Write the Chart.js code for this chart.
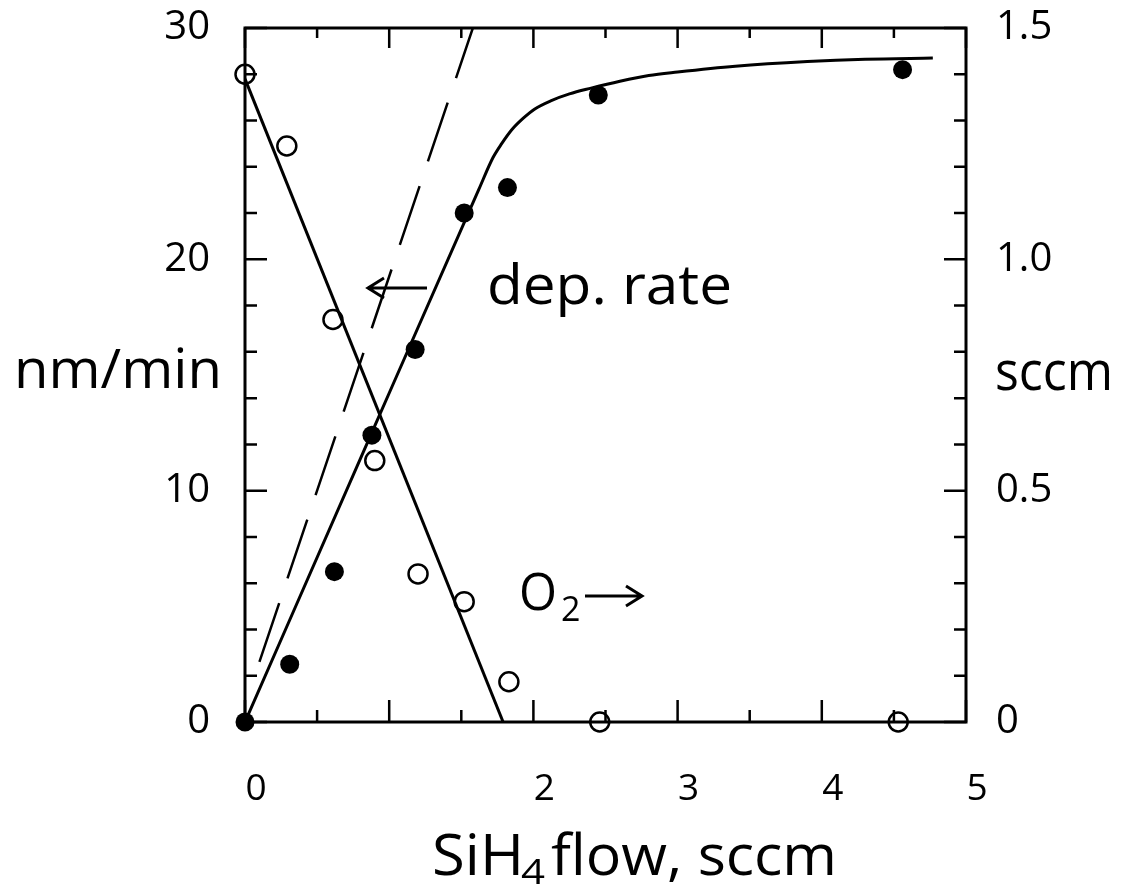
<!DOCTYPE html>
<html>
<head>
<meta charset="utf-8">
<script src="https://cdn.jsdelivr.net/npm/chart.js@4.4.1/dist/chart.umd.min.js"></script>
<style>
  html, body { margin: 0; padding: 0; background: #fff; }
  #wrap { width: 1138px; height: 885px; }
</style>
</head>
<body>
<div id="wrap"><canvas id="fig"></canvas></div>
<script>
// measured points, SiH4 flow in sccm
var rateFlow = [0, 0.31, 0.62, 0.88, 1.18, 1.52, 1.82, 2.45, 4.56];
var rateVal  = [0, 2.5, 6.5, 12.4, 16.1, 22.0, 23.1, 27.1, 28.2];      // nm/min (filled)
var o2Flow   = [0, 0.29, 0.61, 0.90, 1.20, 1.52, 1.83, 2.46, 4.53];
var o2Val    = [1.40, 1.245, 0.87, 0.565, 0.32, 0.26, 0.087, 0, 0];    // sccm (open)

// drawn curves
var fitFlow = [0, 0.9, 1.62, 1.72, 1.78, 1.85, 1.93, 2.01, 2.12, 2.25, 2.4, 2.6, 2.8, 3.0, 3.4, 3.9, 4.3, 4.77];
var fitRate = [0, 12.8, 23.0, 24.4, 25.0, 25.6, 26.1, 26.5, 26.85, 27.15, 27.4, 27.7, 27.95, 28.1, 28.35, 28.55, 28.65, 28.7];
var o2LineFlow = [0, 1.79];
var o2LineVal  = [1.39, 0];
var dashFlow = [0.10, 1.58];
var dashRate = [2.6, 30];

// tick labels
var xTicks = [0, 1, 2, 3, 4, 5];
var xLabels = ['0', '', '2', '3', '4', '5'];
var leftTicks = [0, 10, 20, 30];
var leftLabels = ['0', '10', '20', '30'];
var rightTicks = [0, 0.5, 1.0, 1.5];
var rightLabels = ['0', '0.5', '1.0', '1.5'];

function pts(xs, ys) {
    return xs.map(function (v, i) { return { x: v, y: ys[i] }; });
}

function fitText(ctx, str, x, y, width) {
    var w = ctx.measureText(str).width;
    ctx.save();
    ctx.translate(x, y);
    ctx.scale(width / w, 1);
    ctx.fillText(str, 0, 0);
    ctx.restore();
}

function arrow(ctx, x1, x2, y, dir) {
    var tip = dir < 0 ? x1 : x2;
    ctx.beginPath();
    ctx.moveTo(x1, y); ctx.lineTo(x2, y);
    ctx.moveTo(tip - dir * 16, y - 10); ctx.lineTo(tip, y); ctx.lineTo(tip - dir * 16, y + 10);
    ctx.stroke();
}

var frame = {
    id: 'frame',
    beforeDatasetsDraw: function (chart) {
        var ctx = chart.ctx, a = chart.chartArea;
        var x = chart.scales.x, y = chart.scales.y;
        ctx.save();
        ctx.strokeStyle = '#000';
        ctx.lineWidth = 3;
        ctx.strokeRect(a.left, a.top, a.right - a.left, a.bottom - a.top);
        ctx.lineWidth = 2.5;
        ctx.beginPath();
        for (var v = 0; v <= 30; v += 2) {
            var py = y.getPixelForValue(v);
            var len = v % 10 === 0 ? 22 : 12;
            ctx.moveTo(a.left, py); ctx.lineTo(a.left + len, py);
            ctx.moveTo(a.right, py); ctx.lineTo(a.right - len, py);
        }
        for (var u = 0; u <= 5; u += 0.5) {
            var px = x.getPixelForValue(u);
            var big = u % 1 === 0;
            ctx.moveTo(px, a.bottom); ctx.lineTo(px, a.bottom - (big ? 22 : 12));
            ctx.moveTo(px, a.top); ctx.lineTo(px, a.top + (big ? 20 : 10));
        }
        ctx.stroke();
        ctx.restore();
    },
    afterDraw: function (chart) {
        var ctx = chart.ctx;
        ctx.save();
        ctx.fillStyle = '#000';
        ctx.strokeStyle = '#000';
        ctx.lineWidth = 3;
        ctx.textAlign = 'left';
        ctx.textBaseline = 'alphabetic';

        ctx.font = '500 54px "Open Sans"';
        fitText(ctx, 'nm/min', 14, 388, 208);
        fitText(ctx, 'sccm', 995, 390, 118);
        fitText(ctx, 'dep. rate', 487, 304, 245);
        arrow(ctx, 368, 427, 288, -1);

        ctx.font = '500 52px "Open Sans"';
        fitText(ctx, 'O', 519, 610, 38);
        ctx.font = '500 34px "Open Sans"';
        ctx.fillText('2', 561, 621);
        arrow(ctx, 585, 642, 596, 1);

        ctx.font = '500 56px "Open Sans"';
        fitText(ctx, 'SiH', 432, 875, 92);
        ctx.font = '500 34px "Open Sans"';
        fitText(ctx, '4', 521, 884, 24);
        ctx.font = '500 56px "Open Sans"';
        fitText(ctx, 'flow, sccm', 551, 875, 286);
        ctx.restore();
    }
};

// keep the tick label overhang from pushing the plot box down
function sideFit(w) {
    return function (s) {
        s.width = w;
        s.paddingTop = 0;
        s.paddingBottom = 0;
    };
}

new Chart(document.getElementById('fig').getContext('2d'), {
    type: 'scatter',
    data: {
        datasets: [{
            type: 'line',
            data: pts(fitFlow, fitRate),
            yAxisID: 'y',
            borderColor: '#000',
            borderWidth: 3,
            pointRadius: 0,
            cubicInterpolationMode: 'monotone',
            fill: false
        }, {
            type: 'line',
            data: pts(o2LineFlow, o2LineVal),
            yAxisID: 'y2',
            borderColor: '#000',
            borderWidth: 3,
            pointRadius: 0,
            fill: false
        }, {
            type: 'line',
            data: pts(dashFlow, dashRate),
            yAxisID: 'y',
            borderColor: '#000',
            borderWidth: 2.5,
            borderDash: [62, 26],
            pointRadius: 0,
            fill: false
        }, {
            data: pts(rateFlow, rateVal),
            yAxisID: 'y',
            pointRadius: 9.5,
            pointBackgroundColor: '#000',
            pointBorderColor: '#000',
            pointBorderWidth: 0,
            clip: false
        }, {
            data: pts(o2Flow, o2Val),
            yAxisID: 'y2',
            pointRadius: 9.5,
            pointBackgroundColor: 'rgba(0,0,0,0)',
            pointBorderColor: '#000',
            pointBorderWidth: 2.5,
            clip: false
        }]
    },
    options: {
        responsive: true,
        maintainAspectRatio: false,
        animation: false,
        layout: { padding: { top: 28, left: 0, right: 0, bottom: 0 } },
        plugins: {
            legend: { display: false },
            tooltip: { enabled: false }
        },
        scales: {
            x: {
                type: 'linear',
                position: 'bottom',
                min: 0,
                max: 5,
                afterBuildTicks: function (s) { s.ticks = xTicks.map(function (v) { return { value: v }; }); },
                afterFit: function (s) { s.height = 163; },
                grid: { display: false, drawTicks: false },
                border: { display: false },
                ticks: {
                    padding: 45,
                    labelOffset: 11,
                    color: '#000',
                    font: { family: 'Open Sans', size: 37, weight: '500' },
                    maxRotation: 0,
                    callback: function (v) { return xLabels[xTicks.indexOf(v)]; }
                }
            },
            y: {
                position: 'left',
                min: 0,
                max: 30,
                afterBuildTicks: function (s) { s.ticks = leftTicks.map(function (v) { return { value: v }; }); },
                afterFit: sideFit(245),
                grid: { display: false, drawTicks: false },
                border: { display: false },
                ticks: {
                    padding: 35,
                    color: '#000',
                    font: { family: 'Open Sans', size: 40, weight: '500' },
                    callback: function (v) { return leftLabels[leftTicks.indexOf(v)]; }
                }
            },
            y2: {
                position: 'right',
                min: 0,
                max: 1.5,
                afterBuildTicks: function (s) { s.ticks = rightTicks.map(function (v) { return { value: v }; }); },
                afterFit: sideFit(172),
                grid: { display: false, drawTicks: false },
                border: { display: false },
                ticks: {
                    padding: 30,
                    color: '#000',
                    font: { family: 'Open Sans', size: 40, weight: '500' },
                    callback: function (v) { return rightLabels[rightTicks.indexOf(v)]; }
                }
            }
        }
    },
    plugins: [frame]
});
</script>
</body>
</html>
